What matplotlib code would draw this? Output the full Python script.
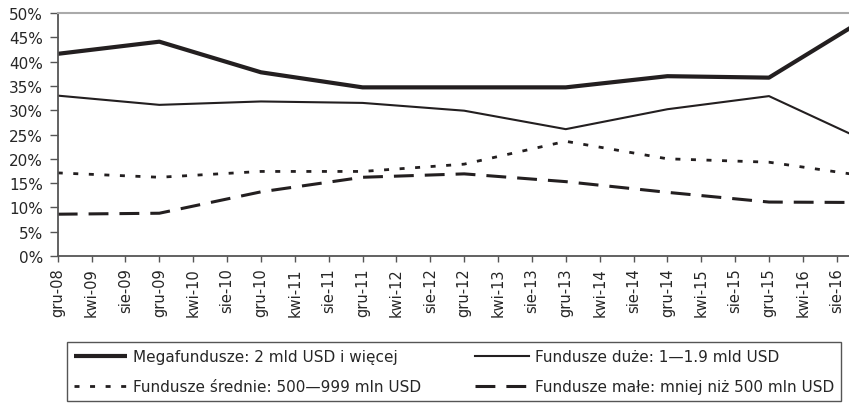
import matplotlib
matplotlib.use("Agg")
import matplotlib.pyplot as plt
from matplotlib.ticker import FuncFormatter, MultipleLocator
from matplotlib.transforms import ScaledTranslation

# --- Dane (udział w %) ---
tick_labels = ['gru-08', 'kwi-09', 'sie-09', 'gru-09', 'kwi-10', 'sie-10',
               'gru-10', 'kwi-11', 'sie-11', 'gru-11', 'kwi-12', 'sie-12',
               'gru-12', 'kwi-13', 'sie-13', 'gru-13', 'kwi-14', 'sie-14',
               'gru-14', 'kwi-15', 'sie-15', 'gru-15', 'kwi-16', 'sie-16']
# miesiace liczone od gru-08 (punkty grudniowe 2008-2016)
point_months = [0, 12, 24, 36, 48, 60, 72, 84, 96]

mega = [41.6, 44.1, 37.8, 34.7, 34.7, 34.7, 37.0, 36.7, 49.5]
duze = [33.0, 31.1, 31.8, 31.5, 29.9, 26.1, 30.2, 32.9, 23.2]
srednie = [17.1, 16.2, 17.4, 17.4, 18.9, 23.6, 20.0, 19.3, 16.3]
male = [8.6, 8.8, 13.2, 16.2, 16.9, 15.3, 13.1, 11.1, 11.0]

labels = ['Megafundusze: 2 mld USD i więcej',
          'Fundusze duże: 1\u20141.9 mld USD',
          'Fundusze średnie: 500\u2014999 mln USD',
          'Fundusze małe: mniej niż 500 mln USD']

line_col = '#231f20'
text_col = '#262626'
plt.rcParams['font.family'] = ['DejaVu Sans']

fig = plt.figure(figsize=(8.49, 4.06), dpi=100)
ax = fig.add_axes([0.068, 0.367, 0.932, 0.5985])

l_mega, = ax.plot(point_months, mega, color=line_col, lw=3.0, solid_capstyle='butt')
l_duze, = ax.plot(point_months, duze, color=line_col, lw=1.5)
l_sred, = ax.plot(point_months, srednie, color=line_col, lw=2.0,
                  dashes=(1.8, 3.8), dash_capstyle='butt')
l_male, = ax.plot(point_months, male, color=line_col, lw=2.2,
                  dashes=(6.5, 3.6), dash_capstyle='butt')

# --- Osie ---
ax.set_xlim(0, 93.45)
ax.set_ylim(0, 50)
ax.yaxis.set_major_locator(MultipleLocator(5))
ax.yaxis.set_major_formatter(FuncFormatter(lambda v, p: f'{v:.0f}%'))
ax.set_xticks(range(0, 4 * len(tick_labels), 4))
ax.set_xticklabels(tick_labels, rotation=90, fontsize=10.5, color=text_col)
for t in ax.get_xticklabels():
    t.set_transform(t.get_transform() + ScaledTranslation(5 / 100, 0, fig.dpi_scale_trans))

ax.tick_params(axis='y', direction='out', length=5.5, width=1, color='#555555',
               pad=5, labelsize=11, labelcolor=text_col)
ax.tick_params(axis='x', direction='out', length=4, width=1, color='#555555',
               pad=4)

for s in ['left', 'bottom']:
    ax.spines[s].set_color('#555555')
    ax.spines[s].set_linewidth(1.3)
ax.spines['top'].set_color('#aaaaaa')
ax.spines['top'].set_linewidth(1.5)
ax.spines['right'].set_visible(False)

# --- Legenda ---
leg = fig.legend([l_mega, l_sred, l_duze, l_male],
                 [labels[0], labels[2], labels[1], labels[3]],
                 ncol=2, loc='upper left',
                 bbox_to_anchor=(67 / 849, 1 - 402 / 406, (841 - 67) / 849, 59 / 406),
                 mode='expand', borderaxespad=0, fontsize=11,
                 handlelength=3.5, handletextpad=0.4, labelspacing=0.98,
                 borderpad=0.45, fancybox=False, framealpha=1,
                 edgecolor='#555555')
leg.get_frame().set_linewidth(1.0)
for t in leg.get_texts():
    t.set_color(text_col)

plt.savefig('out.png', dpi=100)
